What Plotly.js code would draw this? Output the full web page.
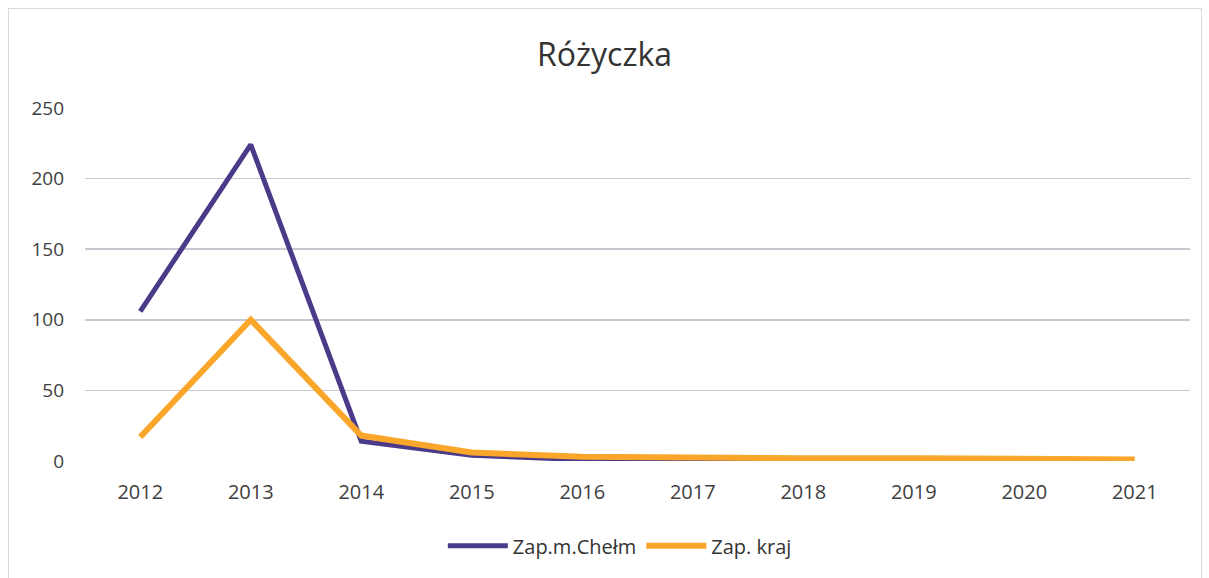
<!DOCTYPE html>
<html><head><meta charset="utf-8">
<script src="https://cdn.plot.ly/plotly-3.0.1.min.js"></script>
<style>
html,body{margin:0;padding:0;background:#fff;}
#wrap{position:relative;width:1209px;height:578px;}
#chart{width:1209px;height:578px;}
#frame{position:absolute;left:8px;top:8px;width:1192px;height:580px;border:1px solid #d9d9d9;pointer-events:none;}
</style></head>
<body><div id="wrap"><div id="chart"></div><div id="frame"></div></div>
<script>
const years = ["2012","2013","2014","2015","2016","2017","2018","2019","2020","2021"];
const chelm = [106, 224, 14, 4, 1, 1, 1, null, null, null];
const kraj = [17, 100, 18, 6, 3, 2, 2, 2, 1, 1];
const seriesNames = ["Zap.m.Chełm", "Zap. kraj"];
const yTicks = [0, 50, 100, 150, 200, 250];

const traces = [
  {x: years, y: chelm, name: seriesNames[0], type: "scatter", mode: "lines",
   line: {color: "#4a3a88", width: 5}},
  {x: years, y: kraj, name: seriesNames[1], type: "scatter", mode: "lines",
   line: {color: "#f9a62a", width: 6}}
];
const layout = {
  width: 1209, height: 578,
  margin: {l: 85, r: 19, t: 108, b: 117},
  paper_bgcolor: "#ffffff", plot_bgcolor: "#ffffff",
  font: {family: "Open Sans, Liberation Sans, sans-serif", color: "#404040", size: 19},
  title: {text: "Różyczka", x: 0.5, xanchor: "center", y: 0.905, yanchor: "middle",
          font: {size: 32, color: "#333333", family: "Open Sans, sans-serif"}},
  xaxis: {type: "category", range: [-0.5, 9.5], showgrid: false, zeroline: false, showline: false,
          ticks: "", tickfont: {size: 20, color: "#404040"}, ticklabelstandoff: 17},
  yaxis: {range: [0, 250], tickvals: yTicks, showgrid: true, gridcolor: "#c8c8d0",
          gridwidth: 1.5, zeroline: false, showline: false, ticks: "",
          tickfont: {size: 19, color: "#404040"}, ticklabelstandoff: 20},
  showlegend: true,
  legend: {orientation: "h", x: 0.484, xanchor: "center", y: -0.24, yanchor: "middle",
           font: {size: 20, color: "#333333"}, itemwidth: 60, tracegroupgap: 0}
};
Plotly.newPlot("chart", traces, layout, {displayModeBar: false, staticPlot: true});
</script></body></html>
